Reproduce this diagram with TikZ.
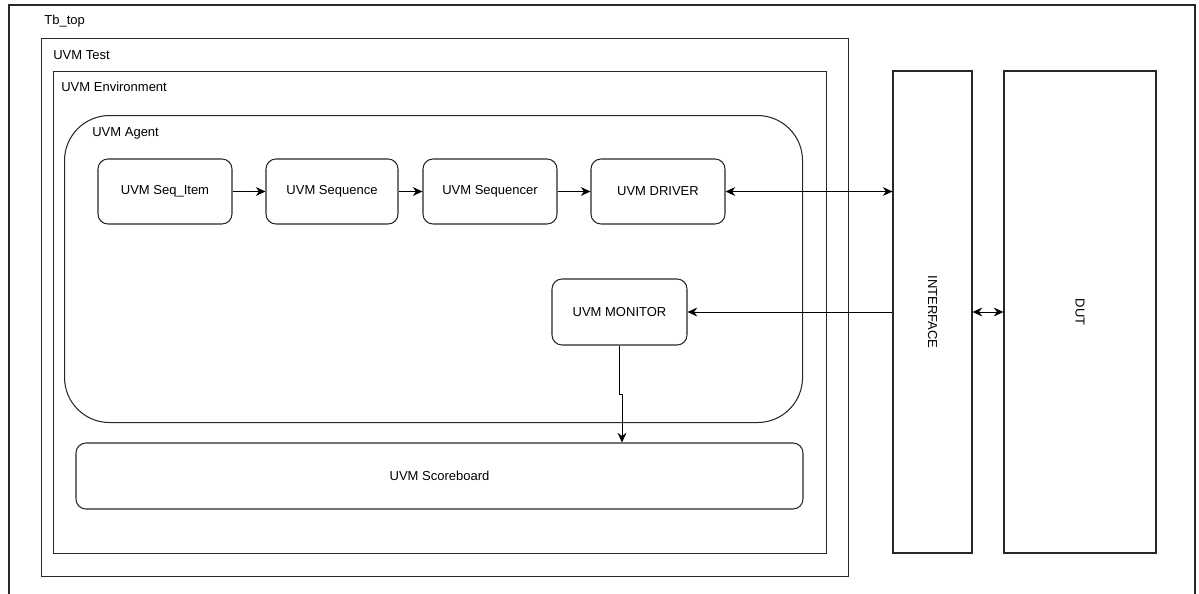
\documentclass[tikz,border=0pt]{standalone}
\usepackage{fontspec}
\setmainfont{Liberation Sans}
\usepackage{tikz}
\usetikzlibrary{arrows.meta,positioning}
\usepackage{xcolor}
\definecolor{uvmline}{RGB}{40,40,40}
\tikzstyle{frame} = [rectangle, draw=uvmline, line width=0.6pt, anchor=north west, inner sep=0pt]
\tikzstyle{block} = [rectangle, rounded corners=0.2cm, draw=uvmline, line width=0.6pt, text centered, font=\fontsize{7.4}{9}\selectfont]
\tikzstyle{tag} = [anchor=base west, inner sep=0pt, font=\fontsize{7.4}{9}\selectfont]
\tikzstyle{arrow} = [line width=0.55pt, -{Stealth[length=5.5pt,width=5pt]}, color=black]
\tikzstyle{darrow} = [line width=0.55pt, {Stealth[length=5.5pt,width=5pt]}-{Stealth[length=5.5pt,width=5pt]}, color=black]

\begin{document}
\begin{tikzpicture}
\useasboundingbox (0,0) rectangle (23.98,-11.86);
% outer testbench frame, open at the bottom
\draw[uvmline, line width=0.6pt] (0.18,-12.2) -- (0.18,-0.10) -- (23.90,-0.10) -- (23.90,-12.2);
\node (tbtop) [tag] at (0.88,-0.48) {Tb\_top};

% containers
\node (test) [frame, minimum width=16.14cm, minimum height=10.76cm] at (0.82,-0.76) {};
\node (testlbl) [tag] at (1.06,-1.18) {UVM Test};
\node (env) [frame, minimum width=15.46cm, minimum height=9.64cm] at (1.06,-1.42) {};
\node (envlbl) [tag] at (1.22,-1.82) {UVM Environment};
\node (agent) [frame, rounded corners=0.9cm, minimum width=14.76cm, minimum height=6.14cm] at (1.28,-2.30) {};
\node (agentlbl) [tag] at (1.84,-2.72) {UVM Agent};

% agent components
\node (item) [block, minimum width=2.68cm, minimum height=1.3cm] at (3.30,-3.83) {UVM Seq\_Item};
\node (seq) [block, minimum width=2.64cm, minimum height=1.3cm] at (6.64,-3.83) {UVM Sequence};
\node (sqr) [block, minimum width=2.68cm, minimum height=1.3cm] at (9.80,-3.83) {UVM Sequencer};
\node (drv) [block, minimum width=2.68cm, minimum height=1.3cm] at (13.16,-3.83) {UVM DRIVER};
\node (mon) [block, minimum width=2.70cm, minimum height=1.32cm] at (12.39,-6.24) {UVM MONITOR};
\node (sb) [block, minimum width=14.54cm, minimum height=1.32cm] at (8.79,-9.52) {UVM Scoreboard};

% interface and dut
\node (iface) [block, rounded corners=0pt, minimum width=1.58cm, minimum height=9.64cm, label={[rotate=-90, font=\fontsize{7.4}{9}\selectfont]center:INTERFACE}] at (18.65,-6.24) {};
\node (dut) [block, rounded corners=0pt, minimum width=3.04cm, minimum height=9.64cm, label={[rotate=-90, font=\fontsize{7.4}{9}\selectfont]center:DUT}] at (21.60,-6.24) {};

% connections
\draw[arrow] (item) -- (seq);
\draw[arrow] (seq) -- (sqr);
\draw[arrow] (sqr) -- (drv);
\draw[darrow] (drv.east) -- (drv.east -| iface.west);
\draw[arrow] (iface.west |- mon.east) -- (mon.east);
\draw[darrow] (iface.east) -- (dut.west);
\draw[arrow] (mon.south) -- ++(0,-0.98) -| ([xshift=0.05cm]mon.south |- sb.north);
\end{tikzpicture}
\end{document}
